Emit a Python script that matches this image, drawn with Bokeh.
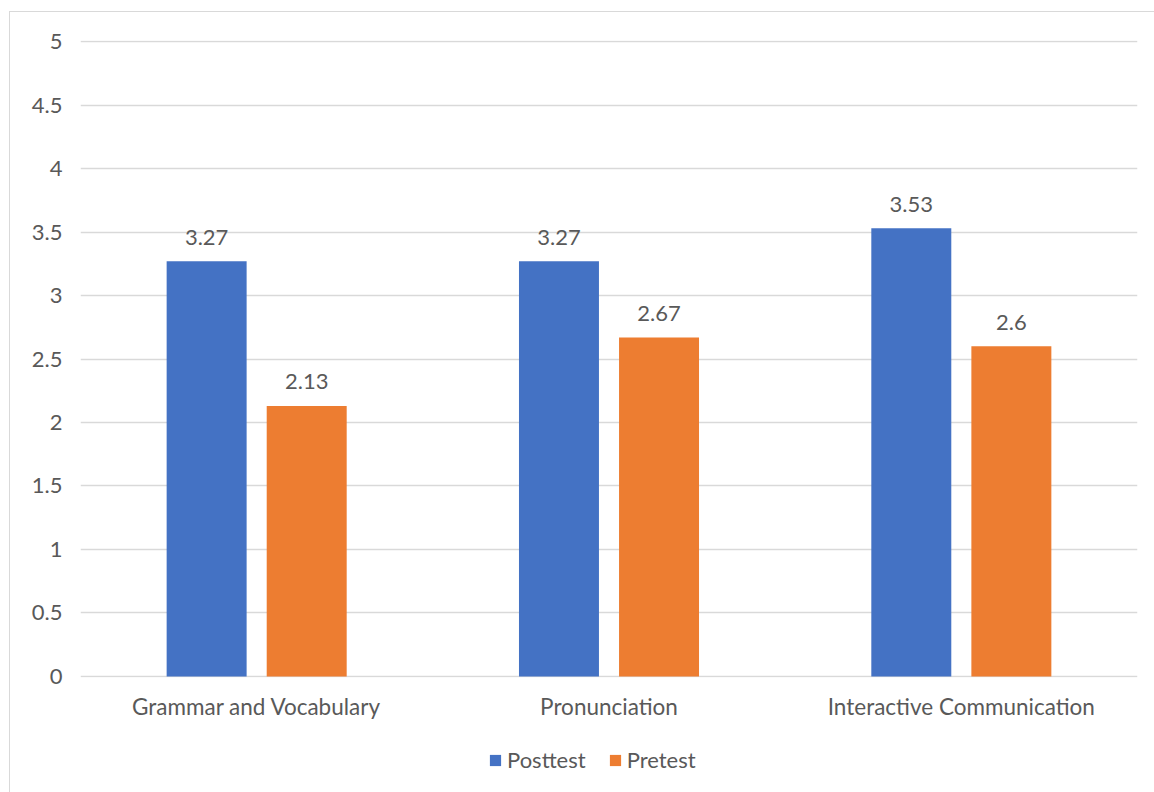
from bokeh.plotting import figure
from bokeh.layouts import column
from bokeh.models import ColumnDataSource, FactorRange, Legend, LegendItem, Range1d, FixedTicker
from bokeh.transform import dodge
from bokeh.core.properties import value
from bokeh.embed import file_html
from bokeh.resources import INLINE

categories = ["Grammar and Vocabulary", "Pronunciation", "Interactive Communication"]
posttest = [3.27, 3.27, 3.53]
pretest = [2.13, 2.67, 2.6]
posttest_labels = ["3.27", "3.27", "3.53"]
pretest_labels = ["2.13", "2.67", "2.6"]
series_names = ["Posttest", "Pretest"]
y_ticks = [0, 0.5, 1, 1.5, 2, 2.5, 3, 3.5, 4, 4.5, 5]

FONT = "Lato"
TXT = "#595959"
BLUE = "#4472C4"
ORANGE = "#ED7D31"
GRID = "#D9D9D9"

src = ColumnDataSource(dict(cat=categories, post=posttest, pre=pretest,
                            post_lbl=posttest_labels, pre_lbl=pretest_labels))

p = figure(width=1144, height=710, output_backend="svg", toolbar_location=None,
           x_range=FactorRange(factors=categories), y_range=Range1d(-0.008, 5.008),
           min_border_left=70, min_border_right=17, min_border_top=28, min_border_bottom=40)

p.outline_line_color = None
p.background_fill_color = "white"
p.border_fill_color = "white"

p.vbar(x=dodge("cat", -0.142, range=p.x_range), top="post", bottom=0, width=0.227,
       source=src, fill_color=BLUE, line_color=None)
p.vbar(x=dodge("cat", 0.142, range=p.x_range), top="pre", bottom=0, width=0.227,
       source=src, fill_color=ORANGE, line_color=None)

for col, lbl, off in (("post", "post_lbl", -0.142), ("pre", "pre_lbl", 0.142)):
    p.text(x=dodge("cat", off, range=p.x_range), y=col, text=lbl, source=src,
           text_font=value(FONT), text_font_size="22px", text_color=TXT,
           text_align="center", text_baseline="middle", y_offset=-24)

p.xgrid.grid_line_color = None
p.ygrid.grid_line_color = GRID
p.ygrid.grid_line_width = 1.5
p.yaxis.ticker = FixedTicker(ticks=y_ticks)
p.yaxis.major_label_overrides = {0: "0", 1: "1", 2: "2", 3: "3", 4: "4", 5: "5"}

for ax in (p.xaxis, p.yaxis):
    ax.axis_line_color = None
    ax.major_tick_line_color = None
    ax.minor_tick_line_color = None
    ax.major_tick_out = 0
    ax.major_tick_in = 0
    ax.major_label_text_font = FONT
    ax.major_label_text_font_size = "22px"
    ax.major_label_text_color = TXT
p.xaxis.major_label_text_font_size = "22.5px"
p.yaxis.major_label_standoff = 18
p.xaxis.major_label_standoff = 15

# legend strip below the chart (same series, drawn outside the visible y window)
p2 = figure(width=1144, height=70, output_backend="svg", toolbar_location=None,
            x_range=FactorRange(factors=categories), y_range=Range1d(10, 11),
            min_border_left=0, min_border_right=0, min_border_top=0, min_border_bottom=0)
p2.xaxis.visible = False
p2.yaxis.visible = False
p2.grid.visible = False
p2.outline_line_color = None
p2.border_fill_color = "white"
p2.background_fill_color = "white"
d1 = p2.vbar(x=dodge("cat", -0.142, range=p2.x_range), top="post", width=0.227,
             source=src, fill_color=BLUE, line_color=None)
d2 = p2.vbar(x=dodge("cat", 0.142, range=p2.x_range), top="pre", width=0.227,
             source=src, fill_color=ORANGE, line_color=None)

legend = Legend(items=[LegendItem(label=series_names[0], renderers=[d1]),
                       LegendItem(label=series_names[1], renderers=[d2])],
                orientation="horizontal", location=(408, 19),
                padding=0, margin=0, spacing=22, label_standoff=5,
                glyph_width=14, glyph_height=14,
                label_text_font=FONT, label_text_font_size="22px", label_text_color=TXT,
                border_line_color=None, background_fill_alpha=0)
p2.add_layout(legend, "center")

layout = column(p, p2, spacing=0)
layout.styles = {"margin-left": "9px", "margin-top": "11px",
                 "border-left": "1px solid #D9D9D9", "border-top": "1px solid #D9D9D9"}

open("out.html", "w").write(file_html(layout, INLINE))
